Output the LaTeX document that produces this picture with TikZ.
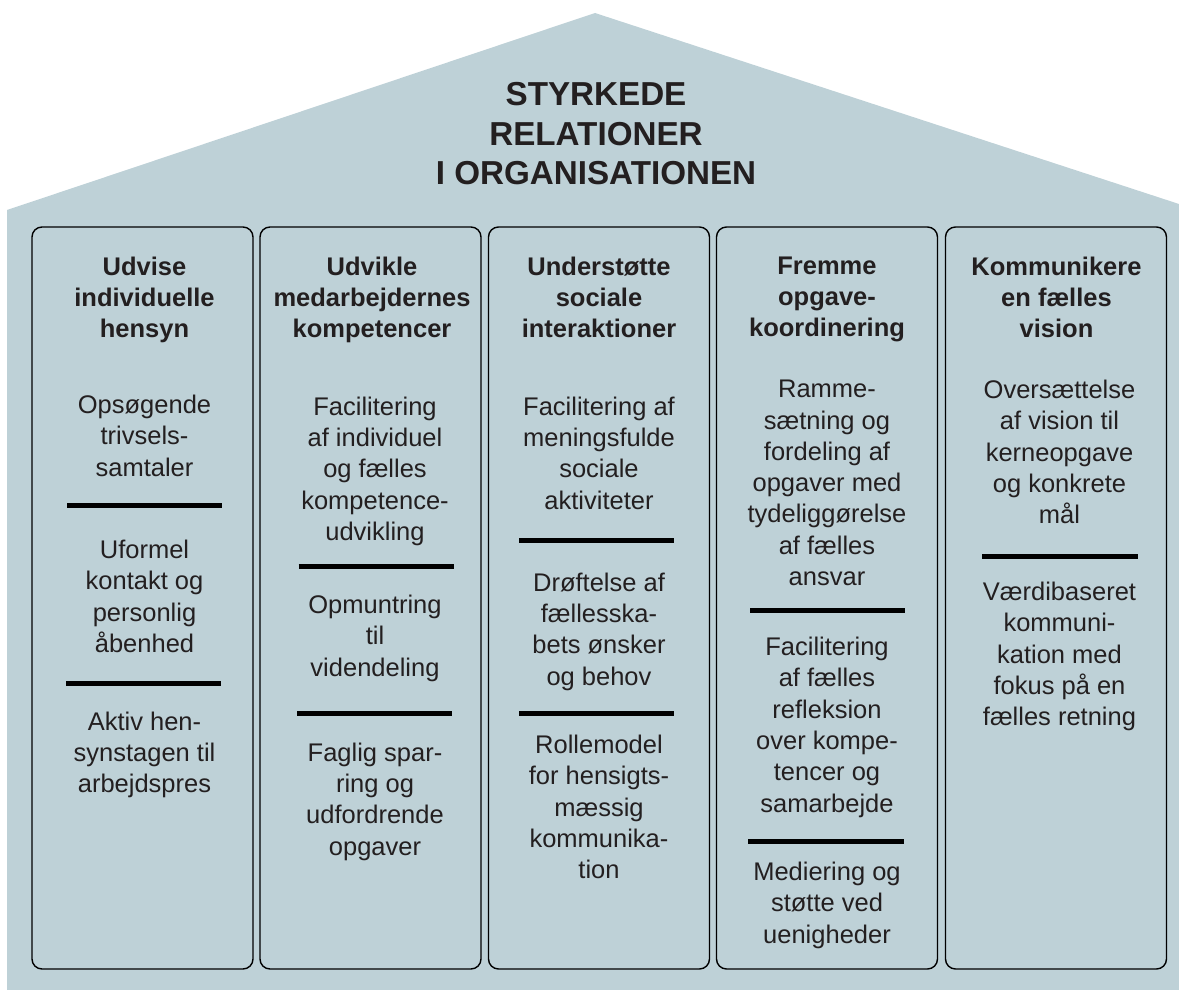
\documentclass[tikz,border=0pt]{standalone}
\usepackage{fontspec}
\setmainfont{Liberation Sans}
\usepackage{tikz}
\definecolor{housefill}{RGB}{190,209,215}
\definecolor{ink}{RGB}{35,31,32}

\begin{document}
\begin{tikzpicture}[x=1pt, y=-1pt, pillar/.style={draw, rounded corners=10pt, line width=1.4pt, minimum width=221pt, minimum height=742pt, inner sep=0pt}, head/.style={align=center, anchor=north, inner sep=0pt, text=ink, font=\fontsize{25.5}{31.3}\selectfont\bfseries}, body/.style={align=center, anchor=north, inner sep=0pt, text=ink, font=\fontsize{25.5}{31.3}\selectfont}, title/.style={align=center, anchor=north, inner sep=0pt, text=ink, font=\fontsize{33.2}{39.5}\selectfont\bfseries}, rule/.style={line width=5pt}]
            \useasboundingbox (0,0) rectangle (1179,990);
            % house
            \fill[housefill] (7,210) -- (595,13) -- (1179,204) -- (1179,990) -- (7,990) -- cycle;
            \node[title] (roof) at (596,82.5) {STYRKEDE\\RELATIONER\\I ORGANISATIONEN};
            % pillars
            \node[pillar] (col1) at (142.5,598) {};
            \node[pillar] (col2) at (370.5,598) {};
            \node[pillar] (col3) at (599,598) {};
            \node[pillar] (col4) at (827,598) {};
            \node[pillar] (col5) at (1056,598) {};
            % headings
            \node[head] (h1) at (144.5,256.5) {Udvise\\individuelle\\hensyn};
            \node[head] (h2) at (372,256.5) {Udvikle\\medarbejdernes\\kompetencer};
            \node[head] (h3) at (599,256.5) {Understøtte\\sociale\\interaktioner};
            \node[head] (h4) at (827,256.5) {Fremme\\opgave-\\koordinering};
            \node[head] (h5) at (1056.5,256.5) {Kommunikere\\en fælles\\vision};
            % column 1
            \node[body] (t11) at (144.5,395) {Opsøgende\\trivsels-\\samtaler};
            \node[body] (t12) at (144.5,540) {Uformel\\kontakt og\\personlig\\åbenhed};
            \node[body] (t13) at (144.5,711.5) {Aktiv hen-\\synstagen til\\arbejdspres};
            \draw[rule] (67,505) -- (222,505);
            \draw[rule] (66,683) -- (221,683);
            % column 2
            \node[body] (t21) at (375,396.5) {Facilitering\\af individuel\\og fælles\\kompetence-\\udvikling};
            \node[body] (t22) at (375,595) {Opmuntring\\til\\videndeling};
            \node[body] (t23) at (375,742.5) {Faglig spar-\\ring og\\udfordrende\\opgaver};
            \draw[rule] (298.5,566) -- (454,566);
            \draw[rule] (297,713) -- (452,713);
            % column 3
            \node[body] (t31) at (599,396.5) {Facilitering af\\meningsfulde\\sociale\\aktiviteter};
            \node[body] (t32) at (599,572.5) {Drøftelse af\\fællesska-\\bets ønsker\\og behov};
            \node[body] (t33) at (599,735) {Rollemodel\\for hensigts-\\mæssig\\kommunika-\\tion};
            \draw[rule] (519,540) -- (674,540);
            \draw[rule] (519,713) -- (674,713);
            % column 4
            \node[body] (t41) at (827,380) {Ramme-\\sætning og\\fordeling af\\opgaver med\\tydeliggørelse\\af fælles\\ansvar};
            \node[body] (t42) at (827,637) {Facilitering\\af fælles\\refleksion\\over kompe-\\tencer og\\samarbejde};
            \node[body] (t43) at (827,862) {Mediering og\\støtte ved\\uenigheder};
            \draw[rule] (750,610.5) -- (905,610.5);
            \draw[rule] (748,841) -- (904,841);
            % column 5
            \node[body] (t51) at (1059.5,380) {Oversættelse\\af vision til\\kerneopgave\\og konkrete\\mål};
            \node[body] (t52) at (1059.5,582) {Værdibaseret\\kommuni-\\kation med\\fokus på en\\fælles retning};
            \draw[rule] (982,556.5) -- (1137.5,556.5);
        \end{tikzpicture}
\end{document}
